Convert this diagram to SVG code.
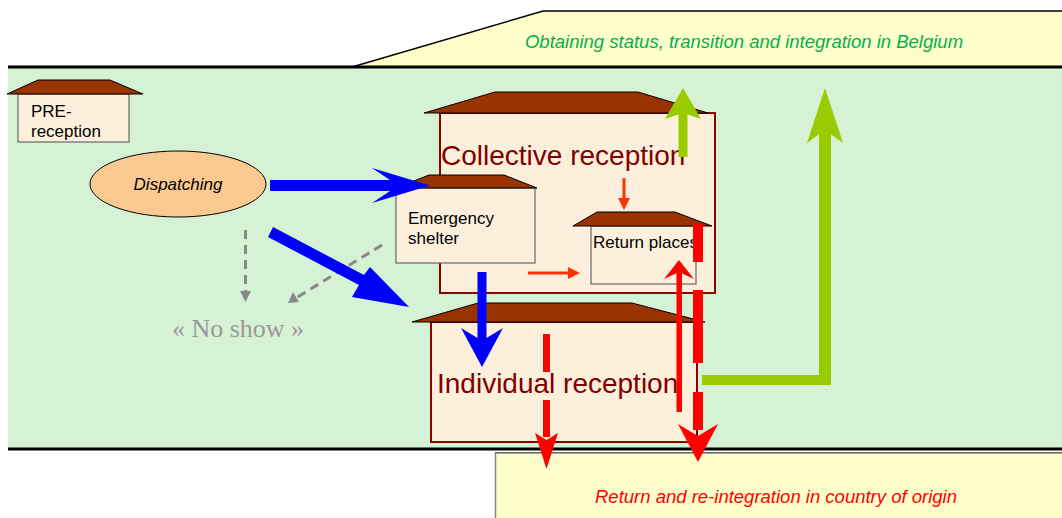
<svg xmlns="http://www.w3.org/2000/svg" width="1062" height="518" viewBox="0 0 1062 518">
<style>
.roof{fill:#993300;stroke:#000;stroke-width:1}
.box{fill:#fcf0dc;stroke:#666;stroke-width:1.2}
.bigbox{fill:#fcf0dc;stroke:#8b0000;stroke-width:2}
.lbl{font-family:"Liberation Sans",Arial,sans-serif;font-size:17px;fill:#000}
.big{font-family:"Liberation Sans",Arial,sans-serif;font-size:28px;fill:#800000}
.blue{fill:#0000ff}
.red{fill:#ff0000}
.green{fill:#99cc00}
</style>
<rect width="1062" height="518" fill="#fff"/>
<!-- top yellow band -->
<polygon points="352,67 543,11 1062,11 1062,67" fill="#ffffcc"/>
<polyline points="352,67 543,11 1062,11" fill="none" stroke="#000" stroke-width="1.5"/>
<text x="744" y="48" text-anchor="middle" font-family="Liberation Sans,Arial,sans-serif" font-size="18.5" font-style="italic" fill="#00b050">Obtaining status, transition and integration in Belgium</text>
<!-- green band -->
<rect x="8" y="68" width="1054" height="380" fill="#d5f2d5"/>
<line x1="8" y1="67" x2="1062" y2="67" stroke="#000" stroke-width="3"/>
<line x1="8" y1="449" x2="1062" y2="449" stroke="#000" stroke-width="3"/>
<line x1="495" y1="452.5" x2="1062" y2="452.5" stroke="#000" stroke-width="1"/>
<!-- bottom yellow box -->
<rect x="495.5" y="453" width="570" height="70" fill="#ffffcc" stroke="#888" stroke-width="1.5"/>
<text x="776" y="503" text-anchor="middle" font-family="Liberation Sans,Arial,sans-serif" font-size="18.5" font-style="italic" fill="#ff0000">Return and re-integration in country of origin</text>

<g id="pre-reception">
<rect class="box" x="18" y="94" width="111" height="48"/>
<polygon class="roof" points="7,94 38,80 110,80 143,94"/>
<text class="lbl" x="31" y="117">PRE-</text>
<text class="lbl" x="31" y="137">reception</text>
</g>

<g id="dispatching">
<ellipse cx="178" cy="184" rx="88" ry="33" fill="#fcc990" stroke="#000" stroke-width="1"/>
<text class="lbl" x="178" y="190" text-anchor="middle" font-style="italic" font-size="18.5">Dispatching</text>
</g>

<g id="collective-reception">
<rect class="bigbox" x="440" y="113" width="275" height="180"/>
<polygon class="roof" points="424,113 495,92 638,92 708,113"/>
<text class="big" x="441" y="165">Collective reception</text>
</g>

<g id="emergency-shelter">
<rect class="box" x="396" y="188" width="139" height="75"/>
<polygon class="roof" points="396,188 429,175 504,175 537,188"/>
<text class="lbl" x="408" y="224">Emergency</text>
<text class="lbl" x="408" y="244">shelter</text>
</g>

<g id="return-places">
<rect class="box" x="591" y="226" width="105" height="58"/>
<polygon class="roof" points="573,226 597,212 675,212 712,226"/>
<text class="lbl" x="593" y="248" font-size="15.5">Return places</text>
</g>

<g id="individual-reception">
<rect class="bigbox" x="431" y="322" width="266" height="120"/>
<polygon class="roof" points="412,322 478,303 632,303 705,322" />
<text class="big" x="437" y="393">Individual reception</text>
</g>

<g id="no-show">
<text x="238" y="337" text-anchor="middle" font-family="Liberation Serif,Times New Roman,serif" font-size="26" fill="#999">« No show »</text>
</g>

<g id="connectors">
<!-- gray dashed -->
<line x1="245.5" y1="230" x2="245.5" y2="292" stroke="#888" stroke-width="3" stroke-dasharray="9,6"/>
<polygon points="240,291 251,291 245.5,302" fill="#888"/>
<line x1="382" y1="245" x2="296" y2="298" stroke="#888" stroke-width="3" stroke-dasharray="9,6"/>
<polygon points="288,303 293,292 299,302" fill="#888"/>
<!-- blue arrows -->
<polygon class="blue" points="270,180 390,180 372,168 430,185.5 372,203 390,191 270,191"/>
<polygon class="blue" points="268,237 273,227 364,275 370,267 409,307 352,297 359,285"/>
<polygon class="blue" points="477.5,272 486.5,272 486.5,338 503,328 482,367 461,328 477.5,338"/>
<!-- small orange-red arrows -->
<line x1="624" y1="178" x2="624" y2="200" stroke="#ff3300" stroke-width="3"/>
<polygon points="618,198 630,198 624,210" fill="#ff3300"/>
<line x1="528" y1="273" x2="570" y2="273" stroke="#ff3300" stroke-width="3"/>
<polygon points="568,267 568,279 580,273" fill="#ff3300"/>
<!-- red solid up arrow -->
<rect class="red" x="676.5" y="272" width="5.5" height="140"/>
<polygon class="red" points="679,260 694,279 679,272 664,279"/>
<!-- red dashed thick down arrow right -->
<rect class="red" x="693" y="224" width="10" height="38"/>
<rect class="red" x="693" y="290" width="10" height="73"/>
<rect class="red" x="693" y="392" width="10" height="38"/>
<polygon class="red" points="678,424 698,436 718,424 698,462"/>
<!-- red dashed down arrow left -->
<rect class="red" x="543" y="334" width="7" height="38"/>
<rect class="red" x="543" y="400" width="7" height="37"/>
<polygon class="red" points="535,433 546.5,440 558,433 546.5,469"/>
<!-- green arrows -->
<rect class="green" x="678.5" y="112" width="9" height="45"/>
<polygon class="green" points="683,88 701,119 683,113 665,119"/>
<rect class="green" x="702" y="375" width="129" height="10"/>
<rect class="green" x="819" y="125" width="12" height="260"/>
<polygon class="green" points="825,88 843,143 825,130 807,143"/>
</g>
</svg>
